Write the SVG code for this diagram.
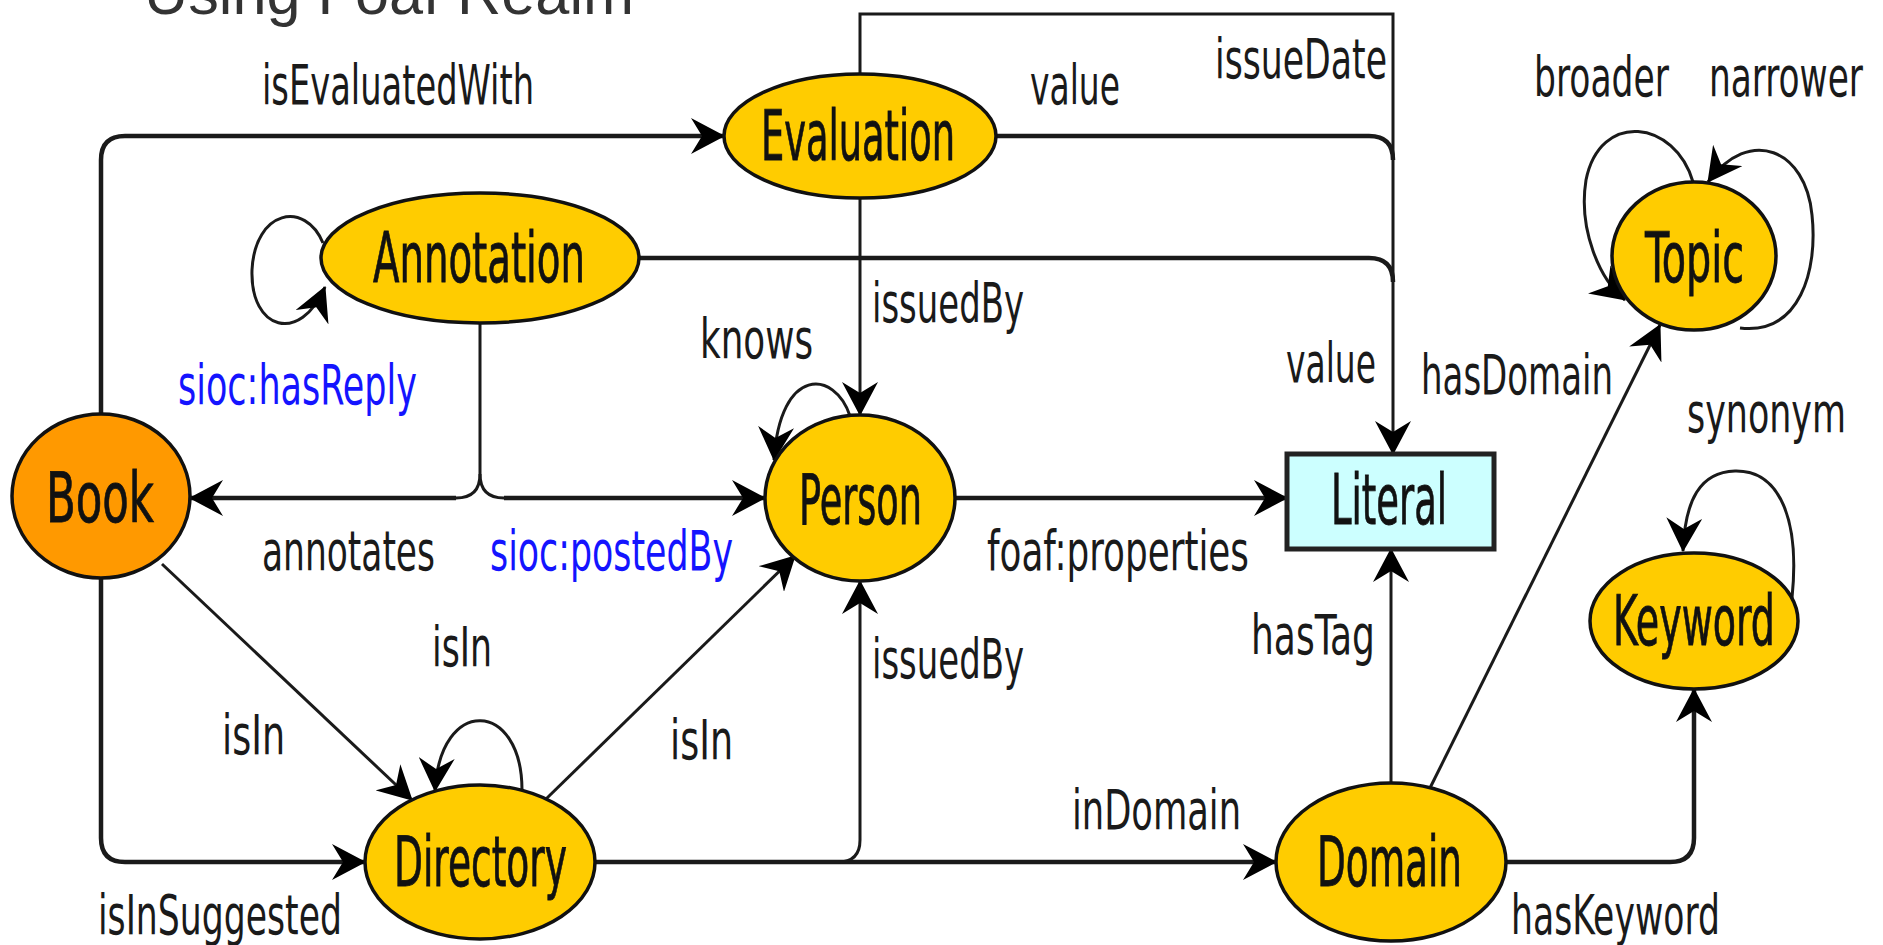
<svg xmlns="http://www.w3.org/2000/svg" width="1883" height="945" viewBox="0 0 1883 945">
<style>
.n{stroke:#111;stroke-width:3.5}
.y{fill:#FFCC00}
.lbl{font-family:"DejaVu Sans Condensed","DejaVu Sans","Liberation Sans",sans-serif;font-size:56px;fill:#1a1a1a}
.nl{font-family:"DejaVu Sans Condensed","DejaVu Sans","Liberation Sans",sans-serif;font-size:70px;fill:#111;stroke:#111;stroke-width:0.8}
.blue{fill:#1414ff}
.c{fill:none;stroke:#1a1a1a;stroke-width:3}
.h{stroke-width:4.5}
</style>
<defs>
<marker id="arr" viewBox="0 0 34 36" markerWidth="34" markerHeight="36" refX="33" refY="18" orient="auto" markerUnits="userSpaceOnUse"><path d="M0,0 L34,18 L0,36 L11,18 z" fill="#000"/></marker>
</defs>
<rect width="1883" height="945" fill="#fff"/>
<text x="144" y="14" font-family="Liberation Sans,Arial,sans-serif" font-size="62" fill="#333" textLength="490" lengthAdjust="spacingAndGlyphs">Using Foaf Realm</text>

<g id="connectors">
<path class="c h" d="M101,414 V160 Q101,136 125,136 H724" marker-end="url(#arr)"/>
<path class="c h" d="M101,578 V838 Q101,862 125,862 H365" marker-end="url(#arr)"/>
<path class="c" d="M162,564 L412,800" marker-end="url(#arr)"/>
<path class="c" d="M860,74 V14 H1393 V454" marker-end="url(#arr)"/>
<path class="c h" d="M996,136 H1369 Q1393,136 1393,160"/>
<path class="c h" d="M639,258 H1369 Q1393,258 1393,282"/>
<path class="c" d="M860,198 V415" marker-end="url(#arr)"/>
<path class="c" d="M480,323 V474 Q480,498 456,498"/>
<path class="c h" d="M456,498 H190" marker-end="url(#arr)"/>
<path class="c" d="M480,474 Q480,498 504,498"/>
<path class="c h" d="M504,498 H765" marker-end="url(#arr)"/>
<path class="c h" d="M955,498 H1287" marker-end="url(#arr)"/>
<path class="c" d="M546,799 L795,556" marker-end="url(#arr)"/>
<path class="c h" d="M595,862 H1276" marker-end="url(#arr)"/>
<path class="c" d="M838,862 Q860,862 860,840 V581" marker-end="url(#arr)"/>
<path class="c" d="M1391,783 V549" marker-end="url(#arr)"/>
<path class="c" d="M1429,790 L1660,325" marker-end="url(#arr)"/>
<path class="c h" d="M1506,862 H1670 Q1694,862 1694,838 V689" marker-end="url(#arr)"/>
<path class="c" d="M323,243 C305,200 255,210 252,270 C250,330 300,345 325,287" marker-end="url(#arr)"/>
<path class="c" d="M850,416 C835,370 780,365 774,460" marker-end="url(#arr)"/>
<path class="c" d="M522,790 C522,700 440,695 435,791" marker-end="url(#arr)"/>
<path class="c" d="M1693,182 C1675,120 1600,110 1586,180 C1578,230 1600,280 1625,300" marker-end="url(#arr)"/>
<path class="c" d="M1740,328 C1800,335 1818,270 1812,215 C1806,150 1750,125 1708,182" marker-end="url(#arr)"/>
<path class="c" d="M1792,598 C1800,520 1780,470 1735,471 C1700,472 1685,500 1683,551" marker-end="url(#arr)"/>
</g>

<g id="edge-labels">
<text class="lbl" x="262" y="104" textLength="272" lengthAdjust="spacingAndGlyphs">isEvaluatedWith</text>
<text class="lbl" x="1030" y="104" textLength="90" lengthAdjust="spacingAndGlyphs">value</text>
<text class="lbl" x="1215" y="78" textLength="172" lengthAdjust="spacingAndGlyphs">issueDate</text>
<text class="lbl" x="1534" y="96" textLength="135" lengthAdjust="spacingAndGlyphs">broader</text>
<text class="lbl" x="1709" y="96" textLength="154" lengthAdjust="spacingAndGlyphs">narrower</text>
<text class="lbl" x="872" y="322" textLength="152" lengthAdjust="spacingAndGlyphs">issuedBy</text>
<text class="lbl" x="700" y="358" textLength="113" lengthAdjust="spacingAndGlyphs">knows</text>
<text class="lbl blue" x="178" y="404" textLength="239" lengthAdjust="spacingAndGlyphs">sioc:hasReply</text>
<text class="lbl" x="1286" y="382" textLength="90" lengthAdjust="spacingAndGlyphs">value</text>
<text class="lbl" x="1421" y="394" textLength="192" lengthAdjust="spacingAndGlyphs">hasDomain</text>
<text class="lbl" x="1687" y="432" textLength="159" lengthAdjust="spacingAndGlyphs">synonym</text>
<text class="lbl" x="262" y="570" textLength="173" lengthAdjust="spacingAndGlyphs">annotates</text>
<text class="lbl blue" x="490" y="570" textLength="243" lengthAdjust="spacingAndGlyphs">sioc:postedBy</text>
<text class="lbl" x="987" y="570" textLength="262" lengthAdjust="spacingAndGlyphs">foaf:properties</text>
<text class="lbl" x="1251" y="654" textLength="124" lengthAdjust="spacingAndGlyphs">hasTag</text>
<text class="lbl" x="432" y="666" textLength="60" lengthAdjust="spacingAndGlyphs">isIn</text>
<text class="lbl" x="872" y="678" textLength="152" lengthAdjust="spacingAndGlyphs">issuedBy</text>
<text class="lbl" x="222" y="754" textLength="63" lengthAdjust="spacingAndGlyphs">isIn</text>
<text class="lbl" x="670" y="759" textLength="63" lengthAdjust="spacingAndGlyphs">isIn</text>
<text class="lbl" x="1072" y="829" textLength="169" lengthAdjust="spacingAndGlyphs">inDomain</text>
<text class="lbl" x="98" y="934" textLength="244" lengthAdjust="spacingAndGlyphs">isInSuggested</text>
<text class="lbl" x="1511" y="934" textLength="209" lengthAdjust="spacingAndGlyphs">hasKeyword</text>
</g>

<g id="node-evaluation"><ellipse class="n y" cx="860" cy="136" rx="136" ry="62"/><text class="nl" x="761" y="160" textLength="194" lengthAdjust="spacingAndGlyphs">Evaluation</text></g>
<g id="node-annotation"><ellipse class="n y" cx="480" cy="258" rx="159" ry="65"/><text class="nl" x="373" y="282" textLength="212" lengthAdjust="spacingAndGlyphs">Annotation</text></g>
<g id="node-topic"><ellipse class="n y" cx="1694" cy="256" rx="82" ry="74"/><text class="nl" x="1645" y="282" textLength="99" lengthAdjust="spacingAndGlyphs">Topic</text></g>
<g id="node-book"><ellipse class="n" fill="#FF9900" cx="101" cy="496" rx="89" ry="82"/><text class="nl" x="46" y="522" textLength="108" lengthAdjust="spacingAndGlyphs">Book</text></g>
<g id="node-person"><ellipse class="n y" cx="860" cy="498" rx="95" ry="83"/><text class="nl" x="799" y="524" textLength="123" lengthAdjust="spacingAndGlyphs">Person</text></g>
<g id="node-literal"><rect x="1287" y="454" width="207" height="95" fill="#CCFFFF" stroke="#222" stroke-width="5"/><text class="nl" x="1331" y="524" textLength="116" lengthAdjust="spacingAndGlyphs">Literal</text></g>
<g id="node-keyword"><ellipse class="n y" cx="1694" cy="621" rx="104" ry="68"/><text class="nl" x="1613" y="645" textLength="162" lengthAdjust="spacingAndGlyphs">Keyword</text></g>
<g id="node-directory"><ellipse class="n y" cx="480" cy="862" rx="115" ry="77"/><text class="nl" x="394" y="886" textLength="173" lengthAdjust="spacingAndGlyphs">Directory</text></g>
<g id="node-domain"><ellipse class="n y" cx="1391" cy="862" rx="115" ry="79"/><text class="nl" x="1317" y="886" textLength="145" lengthAdjust="spacingAndGlyphs">Domain</text></g>
</svg>
